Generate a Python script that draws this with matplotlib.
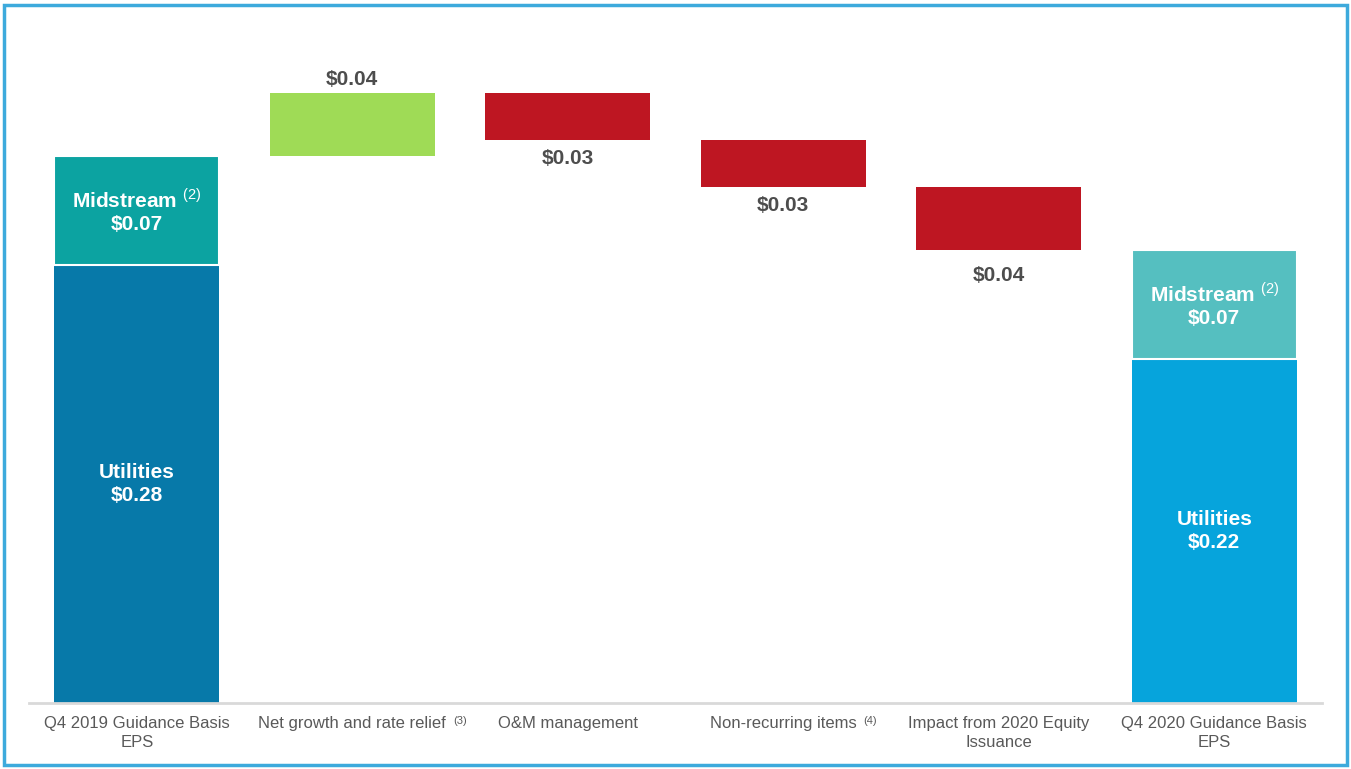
import numpy as np
import matplotlib
matplotlib.use("Agg")
from matplotlib import pyplot as plt
from matplotlib.patches import Rectangle

plt.rcParams['font.family'] = ['Liberation Sans', 'DejaVu Sans']
plt.rcParams['mathtext.fontset'] = 'custom'
plt.rcParams['mathtext.rm'] = 'Liberation Sans'
plt.rcParams['mathtext.bf'] = 'Liberation Sans:bold'

# dane
kategorie = ["Q4 2019 Guidance Basis\nEPS",
             "Net growth and rate relief",
             "O&M management",
             "Non-recurring items",
             "Impact from 2020 Equity\nIssuance",
             "Q4 2020 Guidance Basis\nEPS"]
przypisy = ["", "(3)", "", "(4)", "", ""]
start_utilities = 0.28
start_midstream = 0.07
zmiany = [0.04, -0.03, -0.03, -0.04]
koniec_utilities = 0.22
koniec_midstream = 0.07

# kolory
c_util1 = "#0779A9"
c_mid1 = "#0CA3A1"
c_util2 = "#06A4DC"
c_mid2 = "#55BFC0"
c_plus = "#9FDB56"
c_minus = "#BE1622"
c_txt = "#4D4D4D"

fig = plt.figure(figsize=(13.51, 7.69), dpi=100)
ax = fig.add_axes([0.0215, 0.0858, 0.957, 0.813])

x = np.arange(len(kategorie))
w = 0.765


def podpis_w_srodku(xi, y, tekst):
    ax.text(xi, y, tekst, ha="center", va="center", color="white", fontsize=15,
            fontweight="bold", linespacing=1.25)


# pierwszy slupek
ax.bar(x[0], start_utilities, w, color=c_util1)
ax.bar(x[0], start_midstream, w, bottom=start_utilities, color=c_mid1,
       edgecolor="white", linewidth=1.5)
podpis_w_srodku(x[0], start_utilities / 2, "Utilities\n\\$%.2f" % start_utilities)
podpis_w_srodku(x[0], start_utilities + start_midstream / 2,
                "Midstream $^{(2)}$\n\\$%.2f" % start_midstream)

# zmiany
poziom = start_utilities + start_midstream
offsety = [3, -6, -6, -12]
for i, d in enumerate(zmiany):
    xi = x[i + 1]
    if d > 0:
        ax.bar(xi, d, w, bottom=poziom, color=c_plus)
        ax.annotate("\\$%.2f" % abs(d), (xi, poziom + d), xytext=(0, offsety[i]),
                    textcoords="offset points", ha="center", va="bottom",
                    fontsize=15, fontweight="bold", color=c_txt)
    else:
        ax.bar(xi, -d, w, bottom=poziom + d, color=c_minus)
        ax.annotate("\\$%.2f" % abs(d), (xi, poziom + d), xytext=(0, offsety[i]),
                    textcoords="offset points", ha="center", va="top",
                    fontsize=15, fontweight="bold", color=c_txt)
    poziom += d

# ostatni slupek
ax.bar(x[-1], koniec_utilities, w, color=c_util2)
ax.bar(x[-1], koniec_midstream, w, bottom=koniec_utilities, color=c_mid2,
       edgecolor="white", linewidth=1.5)
podpis_w_srodku(x[-1], koniec_utilities / 2, "Utilities\n\\$%.2f" % koniec_utilities)
podpis_w_srodku(x[-1], koniec_utilities + koniec_midstream / 2,
                "Midstream $^{(2)}$\n\\$%.2f" % koniec_midstream)

ax.set_xlim(-0.5, 5.5)
ax.set_ylim(0, 0.40)
ax.set_xticks([])
ax.set_yticks([])

# podpisy kategorii
for xi, lab, p in zip(x, kategorie, przypisy):
    t = ax.annotate(lab, (xi, 0), xytext=(0, -9.5), textcoords="offset points",
                    ha="center", va="top", fontsize=12, color="#595959",
                    linespacing=1.3, annotation_clip=False)
    if p:
        ax.annotate(p, xy=(1, 1), xycoords=t, xytext=(5, 0),
                    textcoords="offset points", ha="left", va="top",
                    fontsize=8, color="#595959")

for s in ["top", "right", "left"]:
    ax.spines[s].set_visible(False)
ax.spines["bottom"].set_color("#D9D9D9")
ax.spines["bottom"].set_linewidth(2)

# ramka
fig.patches.append(Rectangle((0.003, 0.005), 0.994, 0.989, transform=fig.transFigure,
                             fill=False, ec="#3DAADC", lw=2.5))

plt.savefig("out.png", dpi=100)
